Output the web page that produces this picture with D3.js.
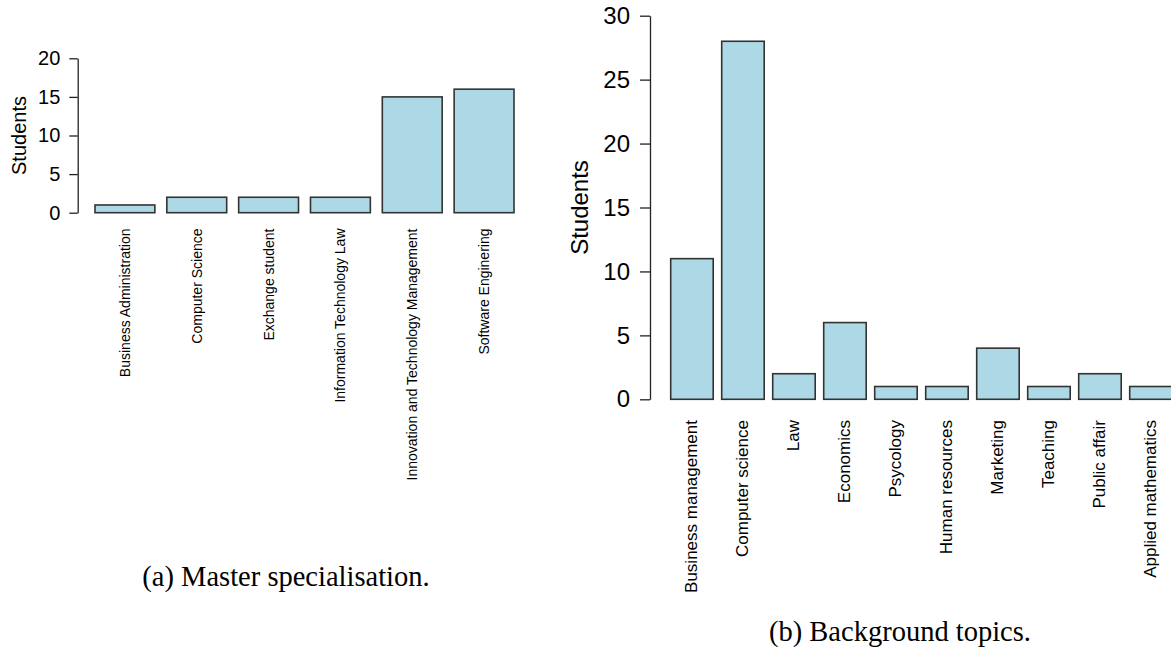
<!DOCTYPE html>
<html>
<head>
<meta charset="utf-8">
<script src="https://cdn.jsdelivr.net/npm/d3@7"></script>
<style>
  html, body { margin: 0; padding: 0; background: #fff; }
  svg { display: block; }
  .sans { font-family: "Liberation Sans", Arial, Helvetica, sans-serif; fill: #000; }
  .serif { font-family: "Liberation Serif", "Times New Roman", serif; fill: #000; }
</style>
</head>
<body>
<svg id="fig" width="1171" height="647"></svg>
<script>
// (a) master specialisation counts
const specialisations = [
  "Business Administration",
  "Computer Science",
  "Exchange student",
  "Information Technology Law",
  "Innovation and Technology Management",
  "Software Enginering"
];
const specialisationCounts = [1, 2, 2, 2, 15, 16];
const specialisationTicks = [0, 5, 10, 15, 20];

// (b) background topic counts
const backgrounds = [
  "Business management",
  "Computer science",
  "Law",
  "Economics",
  "Psycology",
  "Human resources",
  "Marketing",
  "Teaching",
  "Public affair",
  "Applied mathematics"
];
const backgroundCounts = [11, 28, 2, 6, 1, 1, 4, 1, 2, 1];
const backgroundTicks = [0, 5, 10, 15, 20, 25, 30];

const svg = d3.select("#fig");

function barPanel(opts) {
  const g = svg.append("g");
  const x = d3.scaleBand()
    .domain(opts.categories)
    .range(opts.xRange)
    .paddingInner(1 / 6)
    .paddingOuter(0);
  const y = d3.scaleLinear()
    .domain([0, d3.max(opts.ticks)])
    .range(opts.yRange);

  // bars
  g.selectAll("rect.bar")
    .data(opts.values)
    .join("rect")
    .attr("class", "bar")
    .attr("x", (d, i) => x(opts.categories[i]))
    .attr("y", d => y(d))
    .attr("width", x.bandwidth())
    .attr("height", d => y(0) - y(d))
    .attr("fill", "#ADD8E6")
    .attr("stroke", "#333")
    .attr("stroke-width", 1.6);

  // y axis
  const axis = d3.axisLeft(y)
    .tickValues(opts.ticks)
    .tickFormat(d3.format("d"))
    .tickSize(opts.tickLen)
    .tickSizeOuter(0)
    .tickPadding(opts.tickPad);
  const ag = g.append("g")
    .attr("transform", `translate(${opts.axisX},0)`)
    .call(axis);
  ag.select(".domain").attr("stroke", "#222").attr("stroke-width", 1.3);
  ag.selectAll(".tick line").attr("stroke", "#222").attr("stroke-width", 1.3);
  ag.selectAll(".tick text")
    .attr("class", "sans")
    .attr("font-size", opts.tickFont)
    .attr("fill", "#000");
  ag.attr("font-family", null).attr("font-size", null);

  // y axis title
  g.append("text")
    .attr("class", "sans")
    .attr("font-size", opts.titleFont)
    .attr("text-anchor", "middle")
    .attr("dominant-baseline", "central")
    .attr("transform", `translate(${opts.titleX},${(opts.yRange[0] + opts.yRange[1]) / 2}) rotate(-90)`)
    .text("Students");

  // category names, read upwards
  g.selectAll("text.cat")
    .data(opts.categories)
    .join("text")
    .attr("class", "cat sans")
    .attr("font-size", opts.catFont)
    .attr("text-anchor", "end")
    .attr("dominant-baseline", "central")
    .attr("transform", d => `translate(${x(d) + x.bandwidth() / 2},${opts.catTop}) rotate(-90)`)
    .text(d => d);

  // caption
  svg.append("text")
    .attr("class", "serif")
    .attr("font-size", 28.5)
    .attr("text-anchor", "middle")
    .attr("x", opts.captionX)
    .attr("y", opts.captionY)
    .text(opts.caption);
}

barPanel({
  categories: specialisations,
  values: specialisationCounts,
  ticks: specialisationTicks,
  xRange: [95, 514],
  yRange: [212.7, 58.3],
  axisX: 77.7,
  tickLen: 8.4,
  tickPad: 9,
  tickFont: 20,
  titleFont: 20,
  titleX: 18.7,
  catFont: 14,
  catTop: 228.5,
  caption: "(a) Master specialisation.",
  captionX: 286,
  captionY: 586
});

barPanel({
  categories: backgrounds,
  values: backgroundCounts,
  ticks: backgroundTicks,
  xRange: [670.7, 1172.2],
  yRange: [399.3, 15.7],
  axisX: 650,
  tickLen: 10,
  tickPad: 10,
  tickFont: 24,
  titleFont: 24,
  titleX: 579,
  catFont: 17,
  catTop: 420,
  caption: "(b) Background topics.",
  captionX: 900,
  captionY: 641
});
</script>
</body>
</html>
